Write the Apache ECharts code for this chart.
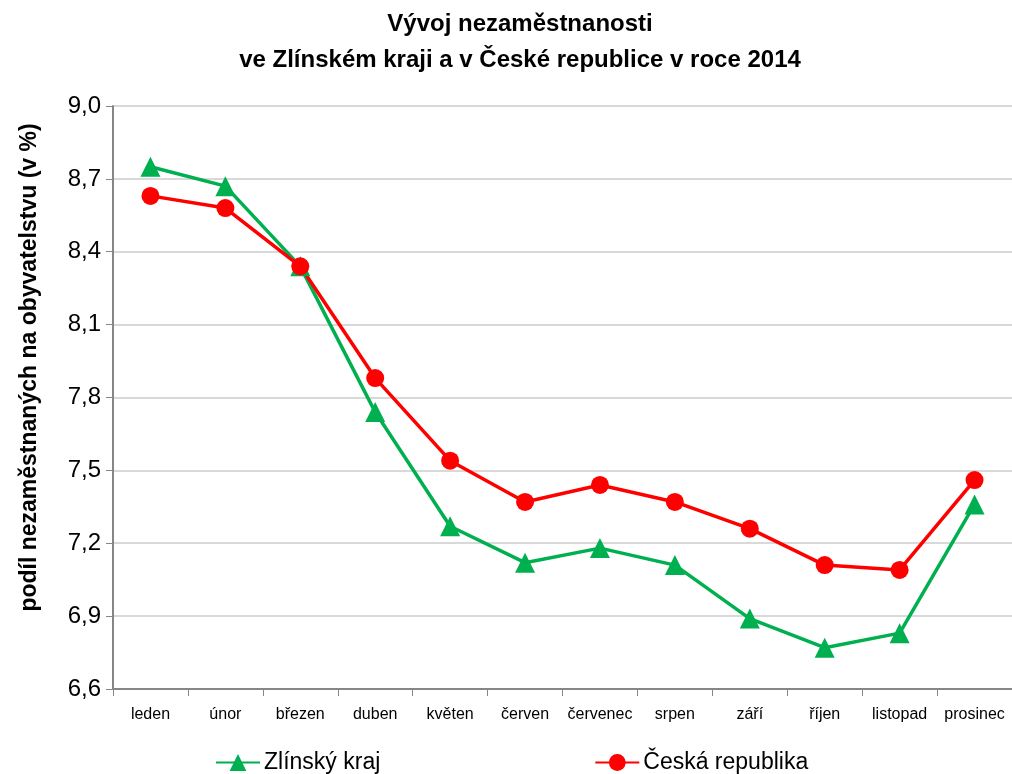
<!DOCTYPE html>
<html>
<head>
<meta charset="utf-8">
<script src="https://cdn.jsdelivr.net/npm/echarts@6/dist/echarts.min.js"></script>
<style>
  html, body { margin: 0; padding: 0; background: #fff; }
  #chart { width: 1012px; height: 774px; }
</style>
</head>
<body>
<div id="chart"></div>
<script>
const months = ["leden", "únor", "březen", "duben", "květen", "červen",
  "červenec", "srpen", "září", "říjen", "listopad", "prosinec"];
const zlinsky = [8.75, 8.67, 8.34, 7.74, 7.27, 7.12, 7.18, 7.11, 6.89, 6.77, 6.83, 7.36];
const ceska = [8.63, 8.58, 8.34, 7.88, 7.54, 7.37, 7.44, 7.37, 7.26, 7.11, 7.09, 7.46];

const font = "'Liberation Sans Narrow', 'Liberation Sans', sans-serif";
const chart = echarts.init(document.getElementById("chart"));

chart.setOption({
  textStyle: { fontFamily: font },
  title: {
    text: "Vývoj nezaměstnanosti\nve Zlínském kraji a v České republice v roce 2014",
    left: 515,
    textAlign: "center",
    top: 1,
    textStyle: { fontFamily: font, fontSize: 24, fontWeight: "bold", lineHeight: 36, color: "#000" },
  },
  legend: {
    top: 746,
    left: 210,
    itemGap: 214,
    itemWidth: 44,
    itemHeight: 21,
    textStyle: { fontFamily: font, fontSize: 23, color: "#000", padding: [0, 0, 0, -1] },
    data: ["Zlínský kraj", "Česká republika"],
  },
  grid: { left: 113, right: 0, top: 106, bottom: 85, containLabel: false },
  xAxis: {
    type: "category",
    data: months,
    boundaryGap: true,
    axisLine: { lineStyle: { color: "#868686", width: 2 } },
    axisTick: { show: true, length: 7, lineStyle: { color: "#868686", width: 1 } },
    axisLabel: { color: "#000", fontSize: 16, margin: 18, fontFamily: font, interval: 0 },
  },
  yAxis: {
    type: "value",
    min: 6.6,
    max: 9.0,
    interval: 0.3,
    name: "podíl nezaměstnaných na obyvatelstvu (v %)",
    nameLocation: "middle",
    nameGap: 72,
    nameTextStyle: { fontFamily: font, fontSize: 23, fontWeight: "bold", color: "#000", padding: [0, 0, 0, 60] },
    axisLine: { show: true, lineStyle: { color: "#868686", width: 2 } },
    axisTick: { show: true, length: 7, lineStyle: { color: "#868686" } },
    splitLine: { lineStyle: { color: "#d9d9d9", width: 2 } },
    axisLabel: {
      color: "#000",
      fontSize: 24,
      margin: 12,
      fontFamily: font,
      formatter: (v) => v.toFixed(1).replace(".", ","),
    },
  },
  series: [
    {
      name: "Zlínský kraj",
      type: "line",
      data: zlinsky,
      symbol: "triangle",
      symbolSize: 20,
      color: "#00b050",
      lineStyle: { width: 3.5 },
    },
    {
      name: "Česká republika",
      type: "line",
      data: ceska,
      symbol: "circle",
      symbolSize: 18,
      color: "#ff0000",
      lineStyle: { width: 3.5 },
    },
  ],
});
</script>
</body>
</html>
